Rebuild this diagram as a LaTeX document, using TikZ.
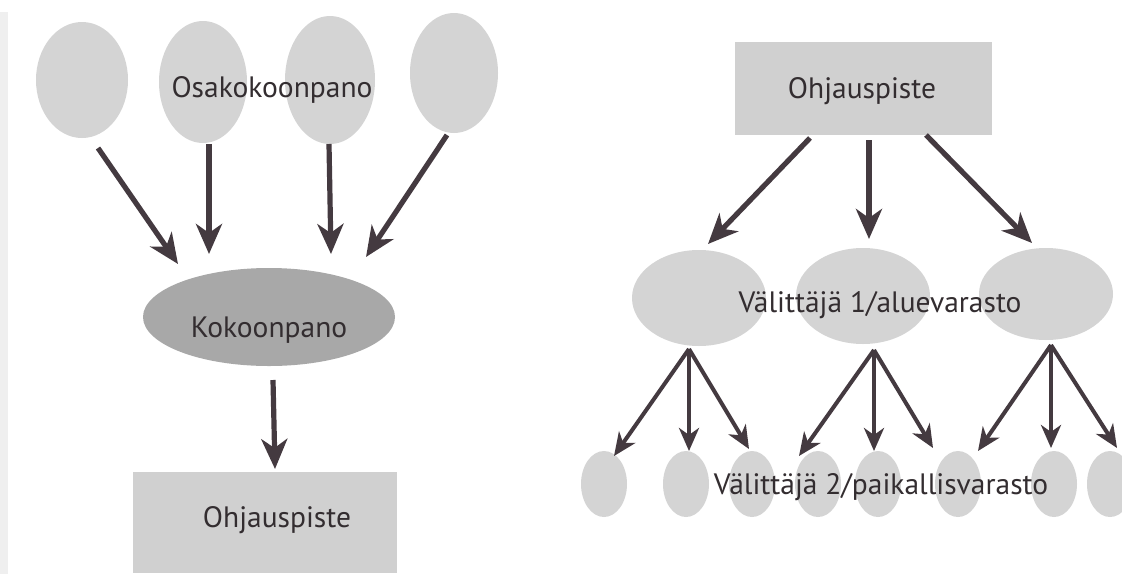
\documentclass[tikz,border=0pt]{standalone}
\usepackage{fontspec}
\setmainfont{PT Sans}
\usetikzlibrary{arrows.meta,shapes.geometric}
\definecolor{ink}{HTML}{443A40}
\definecolor{txt}{HTML}{332D30}
\definecolor{pale}{HTML}{D4D4D4}
\definecolor{deep}{HTML}{A8A8A8}
\definecolor{boxfill}{HTML}{D0D0D0}
\definecolor{edge}{HTML}{EFEFEF}
\begin{document}
\begin{tikzpicture}[x=1pt,y=-1pt,
  blob/.style={ellipse,fill=pale,draw=none,inner sep=0pt},
  mainblob/.style={ellipse,fill=deep,draw=none,inner sep=0pt},
  panel/.style={rectangle,fill=boxfill,draw=none,inner sep=0pt},
  lbl/.style={anchor=base,inner sep=0pt,text=txt,font=\fontsize{29.5}{34}\selectfont},
  bigarrow/.style={draw=ink,line width=5.2pt,
    -{Stealth[length=30pt,width=26pt,inset=9pt]}},
  smallarrow/.style={draw=ink,line width=4pt,
    -{Stealth[length=23pt,width=20pt,inset=7pt]}}]
\useasboundingbox (0,0) rectangle (1122,574);
\fill[white] (0,0) rectangle (1122,574);
\fill[edge] (0,12) rectangle (8,574);

% ---------- left: assembly tree ----------
\node[blob,minimum width=92pt,minimum height=116pt] (e1) at (82,80) {};
\node[blob,minimum width=88pt,minimum height=122pt] (e2) at (203,82) {};
\node[blob,minimum width=90pt,minimum height=128pt] (e3) at (330,80) {};
\node[blob,minimum width=88pt,minimum height=120pt] (e4) at (454,73) {};
\node[lbl] (osa) at (272,97) {Osakokoonpano};

\node[mainblob,minimum width=252pt,minimum height=98pt] (koko) at (269,317) {};
\node[lbl] (kokot) at (269,337) {Kokoonpano};

\node[panel,minimum width=264pt,minimum height=101pt] (ohjL) at (265,522.5) {};
\node[lbl] (ohjLt) at (277,527) {Ohjauspiste};

\coordinate (a1s) at (98,148);  \coordinate (a1e) at (178,264);
\coordinate (a2s) at (209,144); \coordinate (a2e) at (209,254);
\coordinate (a3s) at (329,144); \coordinate (a3e) at (331,254);
\coordinate (a4s) at (447,135); \coordinate (a4e) at (366,257);
\coordinate (a5s) at (273,380); \coordinate (a5e) at (275,469);
\draw[bigarrow] (a1s) -- (a1e);
\draw[bigarrow] (a2s) -- (a2e);
\draw[bigarrow] (a3s) -- (a3e);
\draw[bigarrow] (a4s) -- (a4e);
\draw[bigarrow] (a5s) -- (a5e);

% ---------- right: distribution tree ----------
\node[panel,minimum width=257pt,minimum height=93pt] (ohjR) at (863,88) {};
\node[lbl] (ohjRt) at (862,98) {Ohjauspiste};

\node[blob,minimum width=134pt,minimum height=96pt] (v1a) at (699,298) {};
\node[blob,minimum width=134pt,minimum height=96pt] (v1b) at (863,296) {};
\node[blob,minimum width=134pt,minimum height=92pt] (v1c) at (1046,294) {};
\node[lbl] (v1t) at (880,312) {Välittäjä 1/aluevarasto};

\foreach \i/\x in {1/604,2/686,3/752,4/818,5/878,6/958,7/1054,8/1110}
  \node[blob,minimum width=46pt,minimum height=66pt] (v2\i) at (\x,484) {};
\node[lbl] (v2t) at (881,494) {Välittäjä 2/paikallisvarasto};

\coordinate (b1s) at (810,138); \coordinate (b1e) at (708,244);
\coordinate (b2s) at (869,140); \coordinate (b2e) at (869,239);
\coordinate (b3s) at (926,135); \coordinate (b3e) at (1032,243);
\draw[bigarrow] (b1s) -- (b1e);
\draw[bigarrow] (b2s) -- (b2e);
\draw[bigarrow] (b3s) -- (b3e);

\coordinate (g1) at (689,349);
\coordinate (g2) at (874,350);
\coordinate (g3) at (1051,345);
\coordinate (t1) at (614,456); \coordinate (t2) at (689,451); \coordinate (t3) at (749,449);
\coordinate (t4) at (799,456); \coordinate (t5) at (874,451); \coordinate (t6) at (933,448);
\coordinate (t7) at (978,451); \coordinate (t8) at (1051,448); \coordinate (t9) at (1117,448);
\foreach \t in {t1,t2,t3} \draw[smallarrow] (g1) -- (\t);
\foreach \t in {t4,t5,t6} \draw[smallarrow] (g2) -- (\t);
\foreach \t in {t7,t8,t9} \draw[smallarrow] (g3) -- (\t);
\end{tikzpicture}
\end{document}
